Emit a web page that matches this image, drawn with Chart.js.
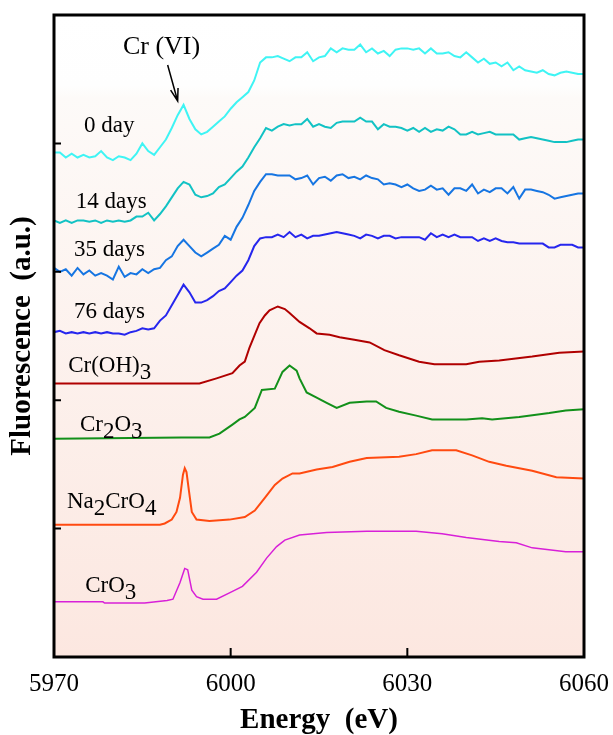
<!DOCTYPE html>
<html>
<head>
<meta charset="utf-8">
<script src="https://cdn.jsdelivr.net/npm/chart.js@4.4.0/dist/chart.umd.min.js"></script>
<style>
  html, body { margin: 0; padding: 0; background: #fff; }
  #wrap { width: 613px; height: 735px; }
</style>
</head>
<body>
<div id="wrap"><canvas id="xanes" width="613" height="735"></canvas></div>
<script>
// Cr K-edge XANES, stacked (offset) spectra

// energy grid (eV) of the four aged-sample scans
const sampleEnergy = [
  5970, 5971, 5972, 5973, 5974, 5975, 5976, 5977, 5978, 5979,
  5980, 5981, 5982, 5983, 5984, 5985, 5986, 5987, 5988, 5989,
  5990, 5991, 5992, 5993, 5994, 5995, 5996, 5997, 5998, 5999,
  6000, 6001, 6002, 6003, 6004, 6005, 6006, 6007, 6008, 6009,
  6010, 6011, 6012, 6013, 6014, 6015, 6016, 6017, 6018, 6019,
  6020, 6021, 6022, 6023, 6024, 6025, 6026, 6027, 6028, 6029,
  6030, 6031, 6032, 6033, 6034, 6035, 6036, 6037, 6038, 6039,
  6040, 6041, 6042, 6043, 6044, 6045, 6046, 6047, 6048, 6049,
  6050, 6051, 6052, 6053, 6054, 6055, 6056, 6057, 6058, 6059,
  6060
];

const day0 = [
  3.93, 3.93, 3.89, 3.92, 3.89, 3.91, 3.89, 3.90, 3.94, 3.89,
  3.87, 3.90, 3.89, 3.87, 3.92, 4.00, 3.94, 3.91, 3.97, 4.03,
  4.12, 4.22, 4.30, 4.19, 4.11, 4.07, 4.09, 4.13, 4.17, 4.21,
  4.27, 4.32, 4.36, 4.40, 4.49, 4.63, 4.67, 4.67, 4.68, 4.66,
  4.64, 4.67, 4.67, 4.71, 4.64, 4.67, 4.68, 4.74, 4.71, 4.74,
  4.73, 4.73, 4.77, 4.71, 4.74, 4.70, 4.72, 4.68, 4.73, 4.74,
  4.74, 4.73, 4.74, 4.70, 4.74, 4.70, 4.70, 4.71, 4.68, 4.67,
  4.71, 4.67, 4.63, 4.66, 4.62, 4.63, 4.60, 4.63, 4.57, 4.60,
  4.57, 4.56, 4.55, 4.57, 4.54, 4.53, 4.55, 4.56, 4.55, 4.54,
  4.54
];

const day14 = [
  3.40, 3.38, 3.40, 3.38, 3.40, 3.40, 3.39, 3.40, 3.38, 3.40,
  3.39, 3.40, 3.39, 3.40, 3.43, 3.43, 3.46, 3.40, 3.45, 3.51,
  3.58, 3.65, 3.70, 3.68, 3.60, 3.58, 3.59, 3.61, 3.66, 3.68,
  3.73, 3.78, 3.82, 3.89, 3.97, 4.04, 4.12, 4.10, 4.13, 4.15,
  4.14, 4.15, 4.15, 4.19, 4.13, 4.15, 4.13, 4.12, 4.16, 4.17,
  4.17, 4.17, 4.20, 4.17, 4.17, 4.11, 4.15, 4.13, 4.13, 4.12,
  4.10, 4.12, 4.09, 4.12, 4.09, 4.11, 4.10, 4.13, 4.11, 4.07,
  4.07, 4.09, 4.07, 4.08, 4.09, 4.07, 4.07, 4.07, 4.07, 4.03,
  4.04, 4.05, 4.04, 4.03, 4.02, 4.01, 4.01, 4.01, 4.02, 4.03,
  4.03
];

const day35 = [
  3.03, 3.00, 3.02, 2.97, 3.03, 2.98, 3.01, 2.97, 2.99, 2.97,
  2.94, 3.04, 2.96, 2.99, 2.98, 3.02, 2.99, 3.02, 3.03, 3.09,
  3.12, 3.20, 3.25, 3.20, 3.15, 3.12, 3.15, 3.18, 3.21, 3.28,
  3.25, 3.35, 3.42, 3.52, 3.63, 3.70, 3.76, 3.76, 3.75, 3.75,
  3.75, 3.72, 3.73, 3.75, 3.68, 3.73, 3.74, 3.71, 3.75, 3.76,
  3.73, 3.74, 3.72, 3.75, 3.73, 3.72, 3.68, 3.69, 3.68, 3.66,
  3.68, 3.65, 3.63, 3.64, 3.67, 3.64, 3.65, 3.60, 3.65, 3.65,
  3.63, 3.68, 3.61, 3.64, 3.62, 3.65, 3.65, 3.61, 3.66, 3.57,
  3.64, 3.64, 3.63, 3.62, 3.60, 3.57, 3.58, 3.59, 3.60, 3.61,
  3.61
];

const day76 = [
  2.53, 2.54, 2.52, 2.53, 2.52, 2.53, 2.52, 2.53, 2.52, 2.53,
  2.52, 2.52, 2.51, 2.53, 2.54, 2.56, 2.55, 2.56, 2.62, 2.66,
  2.74, 2.82, 2.90, 2.84, 2.76, 2.76, 2.78, 2.81, 2.85, 2.87,
  2.92, 2.97, 3.01, 3.09, 3.20, 3.26, 3.27, 3.27, 3.29, 3.27,
  3.31, 3.27, 3.29, 3.26, 3.28, 3.28, 3.29, 3.30, 3.31, 3.30,
  3.29, 3.28, 3.26, 3.29, 3.28, 3.26, 3.28, 3.28, 3.26, 3.27,
  3.27, 3.27, 3.27, 3.25, 3.30, 3.27, 3.29, 3.27, 3.29, 3.27,
  3.27, 3.27, 3.24, 3.26, 3.24, 3.26, 3.24, 3.23, 3.23, 3.22,
  3.22, 3.22, 3.22, 3.22, 3.19, 3.19, 3.21, 3.21, 3.21, 3.19,
  3.19
];

// reference compounds (own energy points)
const crOH3Energy = [5970, 5994.7, 5997.6, 6000.3, 6001.5, 6002.4, 6003.2, 6004.1, 6004.9, 6005.8,
  6006.6, 6008.0, 6009.2, 6010.0, 6011.7, 6013.4, 6014.6, 6016.8, 6018.5, 6021.0,
  6023.6, 6026.1, 6028.6, 6032.0, 6034.6, 6040.0, 6042.2, 6045.6, 6051.2, 6055.8, 6060];
const crOH3 = [2.13, 2.13, 2.17, 2.21, 2.27, 2.30, 2.41, 2.51, 2.60, 2.66,
  2.70, 2.73, 2.71, 2.68, 2.61, 2.56, 2.52, 2.51, 2.49, 2.47,
  2.45, 2.39, 2.35, 2.30, 2.28, 2.28, 2.30, 2.31, 2.34, 2.37, 2.38];

const cr2O3Energy = [5970, 5991.7, 5996.4, 5998.1, 6000.3, 6001.5, 6002.4, 6004.1, 6005.3, 6007.5,
  6008.8, 6010.0, 6011.2, 6011.7, 6012.9, 6014.6, 6016.3, 6018.0, 6020.2, 6023.1,
  6024.7, 6026.4, 6028.6, 6031.5, 6034.2, 6040.0, 6042.7, 6044.4, 6049.0, 6054.1, 6056.9, 6060];
const cr2O3 = [1.70, 1.71, 1.71, 1.74, 1.81, 1.85, 1.87, 1.94, 2.08, 2.09,
  2.22, 2.27, 2.23, 2.17, 2.06, 2.02, 1.98, 1.94, 1.98, 1.99,
  1.99, 1.94, 1.91, 1.88, 1.85, 1.85, 1.86, 1.85, 1.87, 1.90, 1.92, 1.93];

const na2CrO4Energy = [5970, 5988.0, 5988.8, 5990.0, 5990.8, 5991.4, 5991.9, 5992.2, 5992.5, 5992.9,
  5993.4, 5994.2, 5996.4, 5999.8, 6002.4, 6004.1, 6005.8, 6007.5, 6008.8, 6010.5,
  6011.7, 6014.6, 6017.3, 6020.2, 6023.1, 6028.6, 6031.5, 6034.2, 6038.3, 6041.0,
  6043.9, 6046.8, 6051.2, 6055.3, 6060];
const na2CrO4 = [1.03, 1.03, 1.04, 1.07, 1.13, 1.24, 1.42, 1.47, 1.44, 1.30,
  1.13, 1.07, 1.06, 1.07, 1.09, 1.14, 1.24, 1.34, 1.39, 1.43,
  1.43, 1.46, 1.48, 1.52, 1.55, 1.56, 1.58, 1.61, 1.61, 1.57,
  1.52, 1.49, 1.45, 1.40, 1.39];

const crO3Energy = [5970, 5978.3, 5978.6, 5985.4, 5989.2, 5990.2, 5991.4, 5992.2, 5992.7, 5993.4,
  5994.2, 5995.3, 5997.6, 5999.8, 6002.0, 6004.4, 6006.1, 6007.8, 6009.2, 6011.7,
  6016.3, 6023.1, 6031.5, 6035.9, 6040.0, 6045.6, 6048.5, 6051.2, 6056.9, 6060];
const crO3 = [0.43, 0.43, 0.42, 0.42, 0.44, 0.45, 0.58, 0.69, 0.68, 0.52,
  0.47, 0.45, 0.45, 0.50, 0.55, 0.66, 0.77, 0.86, 0.91, 0.95,
  0.97, 0.98, 0.98, 0.96, 0.93, 0.90, 0.89, 0.85, 0.82, 0.82];

const xTicks = [5970, 6000, 6030, 6060];

const SERIF = "'Liberation Serif', 'Times New Roman', serif";

// curve names: [text, isSubscript] parts, anchored in data units (left, baseline)
const curveLabels = [
  { parts: [['0 day', false]], e: 5975.1, y: 4.09 },
  { parts: [['14 days', false]], e: 5973.7, y: 3.50 },
  { parts: [['35 days', false]], e: 5973.4, y: 3.12 },
  { parts: [['76 days', false]], e: 5973.4, y: 2.64 },
  { parts: [['Cr(OH)', false], ['3', true]], e: 5972.4, y: 2.22 },
  { parts: [['Cr', false], ['2', true], ['O', false], ['3', true]], e: 5974.4, y: 1.76 },
  { parts: [['Na', false], ['2', true], ['CrO', false], ['4', true]], e: 5972.2, y: 1.16 },
  { parts: [['CrO', false], ['3', true]], e: 5975.3, y: 0.51 }
];

function pairUp(xs, ys) {
  return xs.map((x, i) => ({ x: x, y: ys[i] }));
}

function drawRich(ctx, parts, x, y, size) {
  let cx = x;
  parts.forEach(([txt, sub]) => {
    ctx.font = size + 'px ' + SERIF;
    ctx.fillText(txt, cx, sub ? y + 7 : y);
    cx += ctx.measureText(txt).width;
  });
}

const paperPlugin = {
  id: 'paper',
  beforeDatasetsDraw(chart) {
    const { ctx, chartArea: a } = chart;
    const g = ctx.createLinearGradient(0, a.top, 0, a.bottom);
    g.addColorStop(0, '#ffffff');
    g.addColorStop(0.11, '#fefefe');
    g.addColorStop(0.13, '#fdfaf8');
    g.addColorStop(1, '#fce7e0');
    ctx.save();
    ctx.fillStyle = g;
    ctx.fillRect(a.left, a.top, a.right - a.left, a.bottom - a.top);
    ctx.restore();
  },
  afterDraw(chart) {
    const { ctx, chartArea: a, scales } = chart;
    const xs = scales.x, ys = scales.y;
    ctx.save();

    // inward tick marks
    ctx.strokeStyle = '#000';
    ctx.lineWidth = 2;
    ctx.beginPath();
    xs.ticks.forEach(t => {
      if (t.value <= xs.min || t.value >= xs.max) return;
      const px = xs.getPixelForValue(t.value);
      ctx.moveTo(px, a.bottom);
      ctx.lineTo(px, a.bottom - 9);
    });
    ys.ticks.forEach(t => {
      if (t.value <= ys.min || t.value >= ys.max) return;
      const py = ys.getPixelForValue(t.value);
      ctx.moveTo(a.left, py);
      ctx.lineTo(a.left + 7, py);
    });
    ctx.stroke();

    // frame
    ctx.lineWidth = 3;
    ctx.strokeRect(a.left, a.top, a.right - a.left, a.bottom - a.top);

    // curve names
    ctx.fillStyle = '#000';
    ctx.textBaseline = 'alphabetic';
    ctx.textAlign = 'left';
    curveLabels.forEach(l => {
      drawRich(ctx, l.parts, xs.getPixelForValue(l.e), ys.getPixelForValue(l.y), 23);
    });

    // Cr (VI) pre-edge callout
    ctx.font = '26px ' + SERIF;
    ctx.fillText('Cr (VI)', xs.getPixelForValue(5981.7), ys.getPixelForValue(4.70));
    const x0 = xs.getPixelForValue(5989.3), y0 = ys.getPixelForValue(4.61);
    const x1 = xs.getPixelForValue(5991.0), y1 = ys.getPixelForValue(4.33);
    const ang = Math.atan2(y1 - y0, x1 - x0);
    ctx.lineWidth = 1.5;
    ctx.beginPath();
    ctx.moveTo(x0, y0);
    ctx.lineTo(x1, y1);
    ctx.moveTo(x1 - 13 * Math.cos(ang - 0.3), y1 - 13 * Math.sin(ang - 0.3));
    ctx.lineTo(x1, y1);
    ctx.lineTo(x1 - 13 * Math.cos(ang + 0.3), y1 - 13 * Math.sin(ang + 0.3));
    ctx.stroke();

    ctx.restore();
  }
};

const ctx = document.getElementById('xanes').getContext('2d');

new Chart(ctx, {
  type: 'line',
  data: {
    datasets: [
      { label: '0 day', data: pairUp(sampleEnergy, day0), borderColor: '#3ff4f4' },
      { label: '14 days', data: pairUp(sampleEnergy, day14), borderColor: '#12c2c4' },
      { label: '35 days', data: pairUp(sampleEnergy, day35), borderColor: '#1675e2' },
      { label: '76 days', data: pairUp(sampleEnergy, day76), borderColor: '#2626ee' },
      { label: 'Cr(OH)3', data: pairUp(crOH3Energy, crOH3), borderColor: '#b00000' },
      { label: 'Cr2O3', data: pairUp(cr2O3Energy, cr2O3), borderColor: '#12901a' },
      { label: 'Na2CrO4', data: pairUp(na2CrO4Energy, na2CrO4), borderColor: '#ff4a10' },
      { label: 'CrO3', data: pairUp(crO3Energy, crO3), borderColor: '#d820d8', borderWidth: 1.5 }
    ]
  },
  options: {
    responsive: false,
    animation: false,
    layout: { padding: { top: 15, right: 29, left: 0, bottom: 0 } },
    elements: {
      point: { radius: 0 },
      line: { tension: 0, borderWidth: 2, fill: false }
    },
    plugins: {
      legend: { display: false },
      tooltip: { enabled: false }
    },
    scales: {
      x: {
        type: 'linear',
        min: 5970,
        max: 6060,
        afterBuildTicks: s => { s.ticks = xTicks.map(v => ({ value: v })); },
        grid: { display: false, drawTicks: false },
        border: { display: false },
        ticks: {
          color: '#000',
          padding: 12,
          maxRotation: 0,
          font: { family: SERIF, size: 25 },
          callback: v => String(v)
        },
        title: {
          display: true,
          text: 'Energy  (eV)',
          color: '#000',
          font: { family: SERIF, size: 29, weight: 'bold', lineHeight: 1 },
          padding: { top: 0, bottom: 0 }
        },
        afterFit: s => {
          s.height = 78;
          s.paddingLeft = 0;
          s.paddingRight = 0;
        }
      },
      y: {
        min: 0,
        max: 5,
        grid: { display: false, drawTicks: false },
        border: { display: false },
        ticks: { display: false, stepSize: 1 },
        title: {
          display: true,
          text: 'Fluorescence  (a.u.)',
          color: '#000',
          font: { family: SERIF, size: 29, weight: 'bold', lineHeight: 1 },
          padding: { top: 8, bottom: 0 }
        },
        afterFit: s => { s.width = 54; }
      }
    }
  },
  plugins: [paperPlugin]
});
</script>
</body>
</html>
